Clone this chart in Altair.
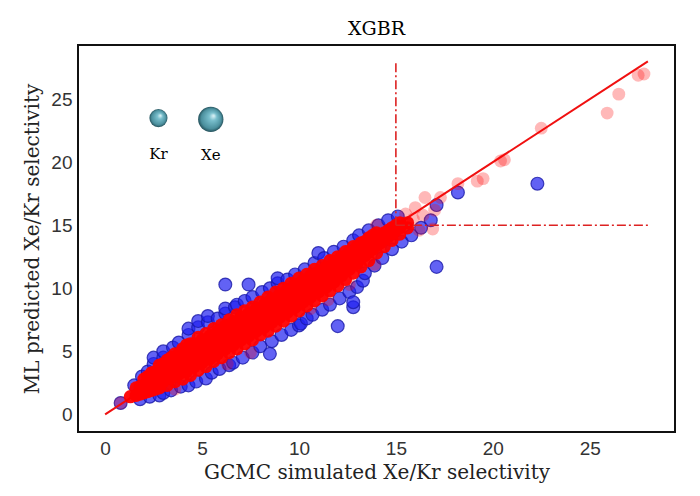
import pandas as pd
import altair as alt

# ---- data ----
# dense training core (red), one column of predictions per simulated value
core_x = [1.3, 1.6, 2.0, 2.4, 2.8, 3.2, 3.6, 4.0, 4.4, 4.8, 5.2, 5.6, 6.0, 6.4, 6.8,
          7.2, 7.6, 8.0, 8.4, 8.8, 9.2, 9.6, 10.0, 10.4, 10.8, 11.2, 11.6, 12.0,
          12.4, 12.8, 13.2, 13.6, 14.0, 14.4, 14.8, 15.2, 15.6]
core_y = [[1.4], [1.5, 2.1], [1.7, 2.3, 2.8], [1.9, 2.6, 3.3], [2.1, 2.8, 3.5, 3.9],
          [2.3, 3.0, 3.7, 4.3], [2.6, 3.4, 4.1, 4.8], [2.8, 3.6, 4.4, 5.2],
          [3.1, 3.9, 4.7, 5.6], [3.5, 4.3, 5.2, 6.1], [3.8, 4.7, 5.6, 6.4],
          [4.2, 5.1, 6.0, 6.8], [4.5, 5.4, 6.3, 7.1], [4.9, 5.8, 6.7, 7.5],
          [5.2, 6.1, 7.0, 7.9], [5.6, 6.5, 7.4, 8.2], [5.9, 6.8, 7.7, 8.5],
          [6.3, 7.2, 8.1, 8.9], [6.6, 7.5, 8.4, 9.3], [7.0, 7.9, 8.8, 9.7],
          [7.4, 8.3, 9.2, 10.0], [7.8, 8.7, 9.6, 10.4], [8.2, 9.1, 10.0, 10.8],
          [8.6, 9.4, 10.3, 11.1], [9.0, 9.8, 10.7, 11.5], [9.4, 10.2, 11.0, 11.8],
          [9.8, 10.6, 11.4, 12.2], [10.2, 11.0, 11.8, 12.5], [10.7, 11.5, 12.2, 12.9],
          [11.2, 11.9, 12.6, 13.3], [11.7, 12.4, 13.0, 13.6], [12.2, 12.9, 13.5, 14.0],
          [12.8, 13.4, 13.9, 14.4], [13.3, 13.9, 14.4], [13.8, 14.3, 14.8],
          [14.3, 14.8, 15.2], [14.8, 15.2]]
# points lying between the columns above
mid_x = [1.8, 2.2, 2.6, 3.0, 3.4, 3.8, 4.2, 4.6, 5.0, 5.4, 5.8, 6.2, 6.6, 7.0, 7.4,
         7.8, 8.2, 8.6, 9.0, 9.4, 9.8, 10.2, 10.6, 11.0, 11.4, 11.8, 12.2, 12.6,
         13.0, 13.4, 13.8, 14.2, 14.6, 15.0]
mid_y = [[1.6, 2.2], [1.8, 2.4, 3.0], [2.0, 2.7, 3.4], [2.6, 3.3, 4.0], [2.9, 3.7, 4.5],
         [3.2, 4.0, 4.8], [3.4, 4.2, 5.1, 5.5], [3.8, 4.7, 5.6], [4.1, 5.0, 5.9],
         [4.4, 5.3, 6.2], [4.8, 5.7, 6.6], [5.2, 6.1, 7.0], [5.5, 6.4, 7.3],
         [5.9, 6.8, 7.7], [6.2, 7.1, 8.0], [6.6, 7.5, 8.4], [6.9, 7.8, 8.7],
         [7.3, 8.2, 9.1], [7.7, 8.6, 9.5], [8.1, 9.0, 9.9], [8.5, 9.4, 10.3],
         [8.9, 9.8, 10.6], [9.3, 10.1, 11.0], [9.7, 10.5, 11.3], [10.1, 10.9, 11.7],
         [10.5, 11.3, 12.1], [11.0, 11.7, 12.5], [11.5, 12.2, 12.9], [12.0, 12.7, 13.3],
         [12.6, 13.2, 13.7], [13.1, 13.7, 14.2], [13.6, 14.2], [14.1, 14.6], [14.6, 15.0]]

# sparse training points (faint red)
train_x = [0.8, 3.6, 6.3, 7.5, 10.6, 11.5, 12.6, 13.9, 14.0, 15.5, 15.9, 16.0, 16.2,
           16.4, 16.5, 16.9, 17.0, 17.3, 18.2, 19.2, 19.5, 20.4, 20.6, 22.5, 25.9,
           26.5, 27.5, 27.8]
train_y = [0.9, 2.0, 4.0, 4.9, 8.4, 9.1, 10.3, 11.9, 15.0, 15.9, 15.5, 16.4, 14.6,
           15.8, 17.2, 14.7, 16.2, 17.2, 18.3, 18.5, 18.7, 20.1, 20.2, 22.7, 23.9,
           25.4, 26.9, 27.0]

# test points (blue)
test_x = [0.8, 1.5, 1.9, 2.2, 2.5, 2.5, 3.0, 3.0, 3.5, 3.8, 4.3, 4.3, 4.8, 4.8, 5.3,
          5.3, 5.8, 6.2, 6.2, 6.7, 6.8, 7.2, 7.6, 8.1, 8.5, 8.9, 8.9, 9.4, 9.8, 10.3,
          10.8, 11.0, 11.3, 11.8, 12.3, 12.8, 13.1, 13.6, 14.1, 14.6, 15.1,
          1.8, 2.3, 2.8, 3.0, 3.4, 3.9, 4.3, 4.7, 5.2, 5.5, 5.9, 6.4, 6.6, 7.1, 7.6,
          8.0, 8.5, 8.6, 9.1, 9.6, 10.0, 10.1, 10.4, 10.7, 11.2, 11.6, 12.0, 12.1,
          12.6, 12.8, 12.8, 13.0, 13.3, 13.4, 13.9, 14.3, 14.8, 15.3, 15.8, 16.3,
          16.8, 17.1, 17.1, 18.2, 22.3, 6.2, 7.4]
test_y = [0.9, 2.3, 3.0, 3.4, 4.0, 4.5, 4.5, 5.0, 5.3, 5.7, 6.3, 6.8, 6.9, 7.4, 7.3,
          7.8, 7.6, 8.0, 8.4, 8.5, 8.7, 9.0, 9.3, 9.7, 10.0, 10.4, 10.8, 10.7, 11.1, 11.5,
          12.0, 12.8, 12.4, 12.9, 13.3, 13.8, 14.2, 14.6, 15.0, 15.4, 15.7,
          1.2, 1.4, 1.5, 1.7, 1.9, 2.2, 2.3, 2.6, 2.85, 3.3, 3.6, 3.9, 4.1, 4.5, 4.9,
          5.4, 4.8, 5.8, 6.3, 6.7, 7.05, 7.2, 7.6, 7.9, 8.3, 8.7, 7.0, 9.2,
          9.7, 8.5, 8.9, 10.1, 10.6, 11.2, 11.8, 12.4, 13.1, 13.7, 14.2, 14.8,
          15.4, 16.6, 11.7, 17.6, 18.3, 10.3, 10.3]

# parity line and 15/15 threshold lines
parity = [0, 28]
thr = 15
thr_end = 28

# atom icons
atoms = ['Kr', 'Xe']
atom_x = [2.75, 5.45]
atom_y = [23.5, 23.4]
atom_size = [330, 640]

# ---- tables ----
cx, cy = [], []
for xs_, ys_ in ((core_x, core_y), (mid_x, mid_y)):
    for x, ys in zip(xs_, ys_):
        for y in ys:
            cx.append(x)
            cy.append(y)
core = pd.DataFrame({'x': cx, 'y': cy})
train = pd.DataFrame({'x': train_x, 'y': train_y})
test = pd.DataFrame({'x': test_x, 'y': test_y})
line = pd.DataFrame({'x': parity, 'y': parity})
vline = pd.DataFrame({'x': [thr, thr], 'y': [thr, thr_end]})
hline = pd.DataFrame({'x': [thr, thr_end], 'y': [thr, thr]})
icons = pd.DataFrame({'atom': atoms, 'x': atom_x, 'y': atom_y, 'size': atom_size})

xs = alt.Scale(domain=[-1.4, 29.4], nice=False, zero=False)
ys = alt.Scale(domain=[-1.4, 29.3], nice=False, zero=False)

X = alt.X('x:Q', scale=xs, title='GCMC simulated Xe/Kr selectivity',
          axis=alt.Axis(values=[0, 5, 10, 15, 20, 25], grid=False, domain=False,
                        ticks=False, labelPadding=7, titlePadding=4))
Y = alt.Y('y:Q', scale=ys, title='ML predicted Xe/Kr selectivity',
          axis=alt.Axis(values=[0, 5, 10, 15, 20, 25], grid=False, domain=False,
                        ticks=False, labelPadding=6, titlePadding=8))

blue = alt.Chart(test).mark_circle(size=165, fill='#2020f0', fillOpacity=0.7,
                                   stroke='#1a1aa8', strokeWidth=1.2,
                                   strokeOpacity=0.8).encode(x=X, y=Y)
red_core = alt.Chart(core).mark_circle(size=175, color='#ff0000',
                                       opacity=0.95).encode(x='x:Q', y='y:Q')
red_sparse = alt.Chart(train).mark_circle(size=165, color='#ff0000',
                                          opacity=0.28).encode(x='x:Q', y='y:Q')

diag = alt.Chart(line).mark_line(color='#f01010', strokeWidth=2).encode(x='x:Q', y='y:Q')
dash = [9, 3, 2, 3]
vrule = alt.Chart(vline).mark_line(color='#dd2222', strokeWidth=1.6,
                                   strokeDash=dash).encode(x='x:Q', y='y:Q')
hrule = alt.Chart(hline).mark_line(color='#dd2222', strokeWidth=1.6,
                                   strokeDash=dash).encode(x='x:Q', y='y:Q')

sphere = {'gradient': 'radial', 'x1': 0.62, 'y1': 0.35, 'r1': 0.0,
          'x2': 0.5, 'y2': 0.5, 'r2': 0.5,
          'stops': [{'offset': 0.0, 'color': '#e6f7fa'},
                    {'offset': 0.3, 'color': '#79bfcd'},
                    {'offset': 0.8, 'color': '#4b8f9d'},
                    {'offset': 1.0, 'color': '#24505a'}]}
atom_pts = alt.Chart(icons).mark_point(filled=True, shape='circle', fill=sphere,
                                       opacity=1, strokeWidth=0).encode(
    x='x:Q', y='y:Q', size=alt.Size('size:Q', scale=None, legend=None))
atom_lbl = alt.Chart(icons).mark_text(font='DejaVu Serif', fontSize=15, color='black',
                                      dy=36).encode(x='x:Q', y='y:Q', text='atom:N')

chart = alt.layer(blue, diag, red_core, red_sparse, vrule, hrule, atom_pts, atom_lbl).properties(
    width=597, height=387,
    title=alt.Title('XGBR', font='DejaVu Serif', fontSize=19, fontWeight='normal',
                    color='black', offset=6),
    autosize=alt.AutoSizeParams(type='none'),
    padding={'left': 70, 'top': 37, 'right': 17, 'bottom': 56},
).configure_view(
    stroke='#111111', strokeWidth=2
).configure_axis(
    labelFont='Liberation Sans', labelFontSize=19, labelColor='#333333',
    titleFont='DejaVu Serif', titleFontSize=20, titleFontWeight='normal', titleColor='#222222'
)

chart.save("out.html", embed_options={"renderer": "svg", "actions": False})
